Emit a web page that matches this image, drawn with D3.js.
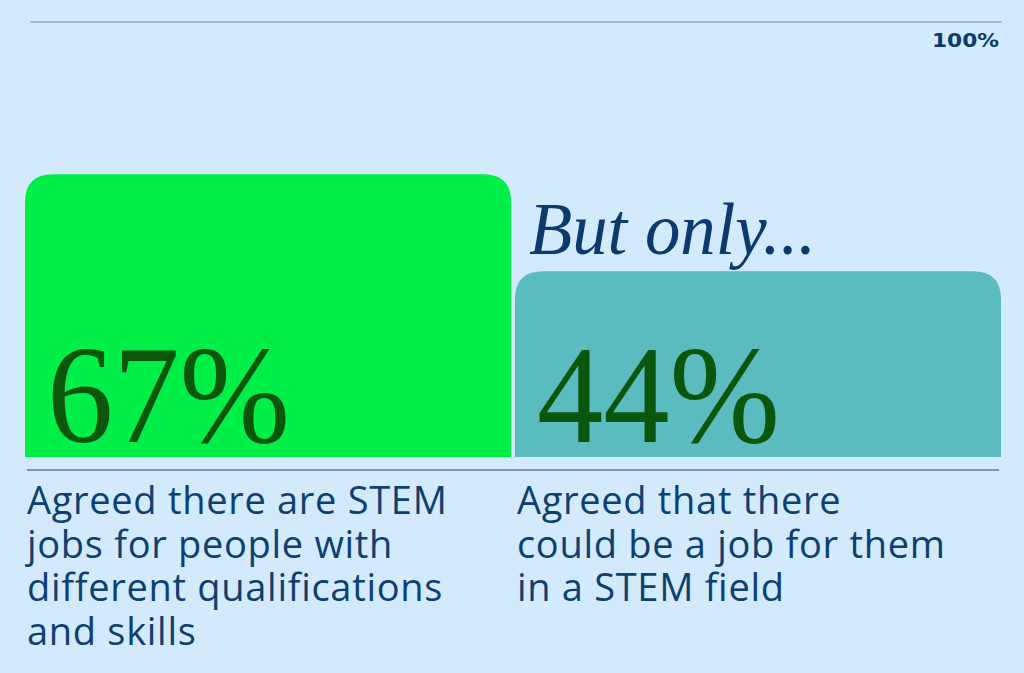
<!DOCTYPE html>
<html>
<head>
<meta charset="utf-8">
<script src="https://cdn.jsdelivr.net/npm/d3@7"></script>
<style>
  html, body { margin: 0; padding: 0; background: #d2eafb; }
  svg { display: block; }
</style>
</head>
<body>
<script>
// chart data
var categories = ["There are STEM jobs", "A job for them"]
var values = [67, 44]
var valueLabels = ["67%", "44%"]
var descriptions = [
  ["Agreed there are STEM", "jobs for people with", "different qualifications", "and skills"],
  ["Agreed that there", "could be a job for them", "in a STEM field"]
]
var maxTick = 100
var maxTickLabel = "100%"
var calloutText = "But only..."

var width = 1024, height = 673
var colors = ["#00ee48", "#5bbcbf"]

var svg = d3.select("body")
  .append("svg")
    .attr("width", width)
    .attr("height", height)

svg.append("rect")
    .attr("width", width)
    .attr("height", height)
    .attr("fill", "#d2eafb")

// scales
var x = d3.scaleBand()
    .domain(categories)
    .range([25, 1001])
    .paddingInner(0.008)
var y = d3.scaleLinear()
    .domain([0, maxTick])
    .range([457, 35])

// rounded-top bar path
function topRounded(x0, y0, w, h, r) {
  return "M" + x0 + "," + (y0 + h) +
    "V" + (y0 + r) +
    "Q" + x0 + "," + y0 + " " + (x0 + r) + "," + y0 +
    "H" + (x0 + w - r) +
    "Q" + (x0 + w) + "," + y0 + " " + (x0 + w) + "," + (y0 + r) +
    "V" + (y0 + h) + "Z"
}

// top reference line + 100% label
svg.append("line")
    .attr("x1", 30).attr("x2", 1002)
    .attr("y1", y(maxTick) - 13).attr("y2", y(maxTick) - 13)
    .attr("stroke", "#8fb0cc")
    .attr("stroke-width", 1.5)
svg.append("text")
    .attr("x", 999)
    .attr("y", y(maxTick) + 12)
    .attr("text-anchor", "end")
    .attr("font-family", "'DejaVu Sans', sans-serif")
    .attr("font-weight", "bold")
    .attr("font-size", 19)
    .attr("fill", "#0d3a6e")
    .attr("textLength", 67)
    .attr("lengthAdjust", "spacingAndGlyphs")
    .text(maxTickLabel)

// bars
svg.selectAll(".bar")
  .data(values)
  .enter().append("path")
    .attr("class", "bar")
    .attr("d", (d, i) => topRounded(x(categories[i]), y(d), x.bandwidth(), y(0) - y(d), 28))
    .attr("fill", (d, i) => colors[i])

// big value labels
svg.selectAll(".value")
  .data(values)
  .enter().append("text")
    .attr("class", "value")
    .attr("x", (d, i) => x(categories[i]) + 22)
    .attr("y", 442)
    .attr("font-family", "'Liberation Serif', serif")
    .attr("font-size", 140)
    .attr("fill", "#0b560d")
    .attr("textLength", 243)
    .attr("lengthAdjust", "spacingAndGlyphs")
    .text((d, i) => valueLabels[i])

// callout above the second bar
svg.append("text")
    .attr("x", x(categories[1]) + 14)
    .attr("y", y(values[1]) - 17)
    .attr("font-family", "'Liberation Serif', serif")
    .attr("font-style", "italic")
    .attr("font-size", 74)
    .attr("fill", "#0d3a6e")
    .attr("textLength", 287)
    .attr("lengthAdjust", "spacingAndGlyphs")
    .text(calloutText)

// baseline
svg.append("line")
    .attr("x1", 27).attr("x2", 999)
    .attr("y1", 470).attr("y2", 470)
    .attr("stroke", "#5a7a9e")
    .attr("stroke-width", 1.5)

// descriptions under each bar
descriptions.forEach(function(lines, i) {
  svg.append("text")
      .attr("font-family", "'Open Sans', sans-serif")
      .attr("font-size", 38)
      .attr("letter-spacing", 0.7)
      .attr("fill", "#0e3f72")
    .selectAll("tspan")
    .data(lines)
    .enter().append("tspan")
      .attr("x", x(categories[i]) + 2)
      .attr("y", (d, j) => 514 + j * 43.5)
      .text(d => d)
})
</script>
</body>
</html>
